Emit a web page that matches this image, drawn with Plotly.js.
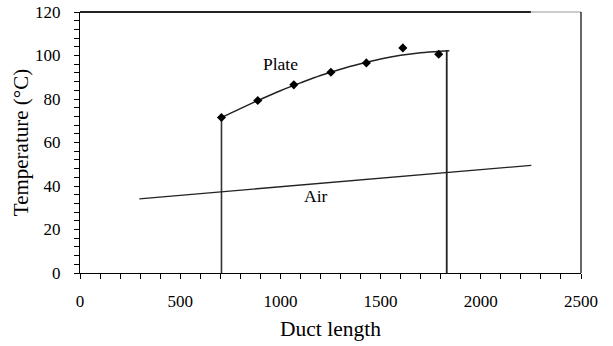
<!DOCTYPE html>
<html>
<head>
<meta charset="utf-8">
<script src="https://cdn.plot.ly/plotly-3.0.1.min.js"></script>
<style>html,body{margin:0;padding:0;background:#fff;}#chart{width:613px;height:346px;}</style>
</head>
<body>
<div id="chart"></div>
<script>
// Measured plate temperatures
const plateX = [706, 887, 1067, 1252, 1429, 1611, 1790];
const plateY = [71.5, 79.3, 86.5, 92.3, 96.6, 103.5, 100.6];
// Fitted plate curve
const curveX = [706, 800, 900, 1000, 1100, 1200, 1300, 1400, 1500, 1600, 1700, 1800, 1843];
const curveY = [71.5, 75.6, 79.8, 83.8, 87.4, 90.8, 93.7, 96.2, 98.4, 100.1, 101.3, 102.0, 102.2];
// Air temperature line
const airX = [296, 706, 1000, 1500, 1830, 2252];
const airY = [34.1, 37.3, 39.6, 43.5, 46.0, 49.5];
// Plate section boundaries (vertical lines)
const leftEdgeX = [706, 706];
const leftEdgeY = [0, 71.5];
const rightEdgeX = [1830, 1830];
const rightEdgeY = [0, 102.5];
// Axis tick labels
const xTicks = [0, 500, 1000, 1500, 2000, 2500];
const yTicks = [0, 20, 40, 60, 80, 100, 120];

const font = "'Liberation Serif', 'Times New Roman', serif";
const lineCol = '#222';

const traces = [
  {x: leftEdgeX, y: leftEdgeY, mode: 'lines', line: {color: '#333', width: 1.6}, hoverinfo: 'skip'},
  {x: rightEdgeX, y: rightEdgeY, mode: 'lines', line: {color: '#222', width: 1.8}, hoverinfo: 'skip'},
  {x: airX, y: airY, mode: 'lines', line: {color: lineCol, width: 1.4}},
  {x: curveX, y: curveY, mode: 'lines', line: {color: lineCol, width: 1.5, shape: 'spline'}},
  {x: plateX, y: plateY, mode: 'markers', marker: {symbol: 'diamond', color: '#000', size: 7}}
];

const layout = {
  width: 613, height: 346,
  margin: {l: 80, r: 32, t: 12, b: 73},
  paper_bgcolor: '#fff', plot_bgcolor: '#fff',
  showlegend: false,
  font: {family: font, color: '#000', size: 14},
  xaxis: {
    range: [0, 2500], tickvals: xTicks, ticktext: xTicks.map(String),
    showgrid: false, zeroline: false, showline: true, linecolor: '#000', linewidth: 1,
    ticks: 'outside', ticklen: 5, tickcolor: '#000', tickwidth: 1,
    minor: {dtick: 100, ticks: 'outside', ticklen: 5, tickcolor: '#000', tickwidth: 1},
    ticklabelstandoff: 8,
    tickfont: {family: font, size: 17, color: '#000'},
    title: {text: 'Duct length', font: {family: font, size: 21.5, color: '#000'}, standoff: 10}
  },
  yaxis: {
    range: [0, 120], tickvals: yTicks, ticktext: yTicks.map(String),
    showgrid: false, zeroline: false, showline: true, linecolor: '#000', linewidth: 1,
    ticks: 'outside', ticklen: 5, tickcolor: '#000', tickwidth: 1,
    minor: {dtick: 4, ticks: 'outside', ticklen: 5, tickcolor: '#000', tickwidth: 1},
    ticklabelstandoff: 10,
    tickfont: {family: font, size: 17, color: '#000'},
    title: {text: 'Temperature (°C)', font: {family: font, size: 21, color: '#000'}, standoff: 0}
  },
  shapes: [
    {type: 'line', xref: 'x', yref: 'paper', x0: 0, x1: 2250, y0: 1, y1: 1, line: {color: '#222', width: 2}},
    {type: 'line', xref: 'x', yref: 'paper', x0: 2250, x1: 2500, y0: 1, y1: 1, line: {color: '#999', width: 1}},
    {type: 'line', xref: 'paper', yref: 'paper', x0: 1, x1: 1, y0: 0, y1: 1, line: {color: '#000', width: 1.2}}
  ],
  annotations: [
    {x: 998, y: 96, text: 'Plate', showarrow: false, font: {family: font, size: 17.5, color: '#000'}},
    {x: 1176, y: 35.5, text: 'Air', showarrow: false, font: {family: font, size: 17.5, color: '#000'}}
  ]
};

Plotly.newPlot('chart', traces, layout, {displayModeBar: false, staticPlot: true});
</script>
</body>
</html>
